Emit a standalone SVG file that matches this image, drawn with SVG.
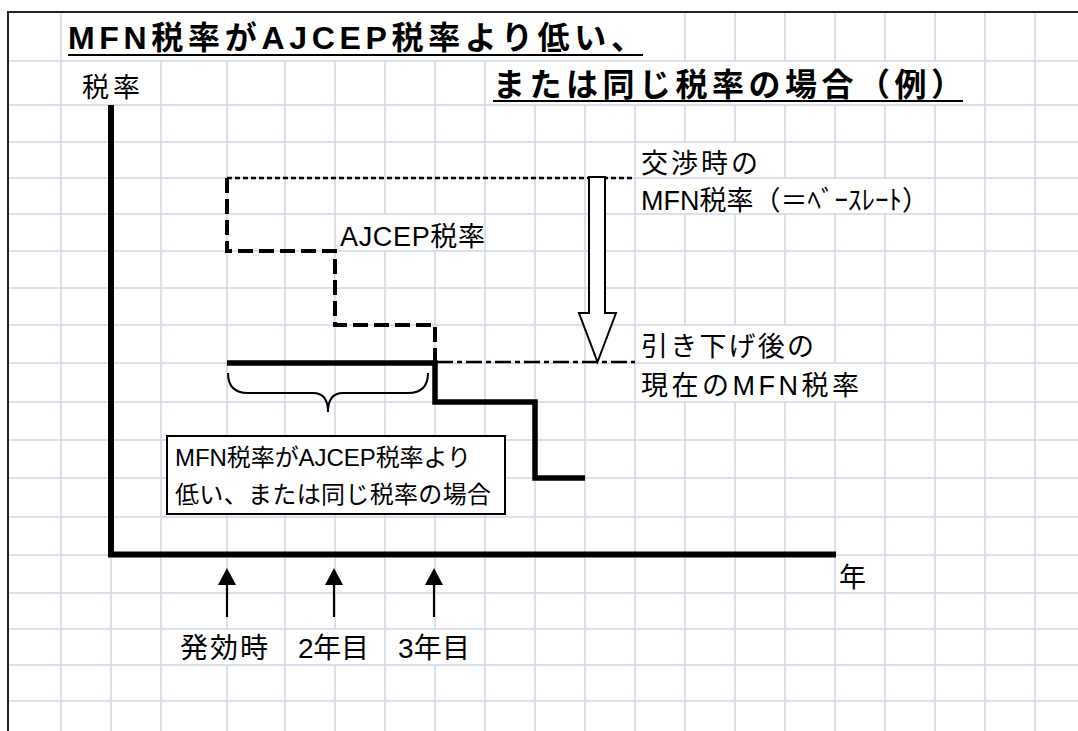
<svg xmlns="http://www.w3.org/2000/svg" width="1078" height="731" viewBox="0 0 1078 731">
<style>
.grid{stroke:#d0d7e5;stroke-width:1.5;fill:none}
.border{stroke:#222;stroke-width:2;fill:none}
.t{font-family:"Liberation Sans","Noto Sans CJK JP",sans-serif;fill:#000}
.title{font-size:32px;font-weight:bold}
.lbl{font-size:27px}
.box{font-size:24px}
.bot{font-size:28px}
.ul{stroke:#000;stroke-width:2}
</style>
<defs>
<marker id="ah" markerUnits="userSpaceOnUse" markerWidth="17" markerHeight="18" viewBox="0 0 17 18" refX="0" refY="9" orient="auto">
<path d="M0,0 L17,9 L0,18 z" fill="#000"/>
</marker>
</defs>
<rect width="1078" height="731" fill="#fff"/>
<g id="grid">
<path class="grid" d="M8,61H1078M8,105H1078M8,142H1078M8,178H1078M8,214H1078M8,251H1078M8,288H1078M8,325H1078M8,363H1078M8,402H1078M8,440H1078M8,478H1078M8,517H1078M8,555H1078M8,593H1078M8,629H1078M8,665H1078M8,701H1078"/>
<path class="grid" d="M61,12V731M111,105V731M161,61V731M227,61V629M227,665V731M285,61V731M335,61V629M335,665V731M385,61V214M385,251V731M435,61V214M435,251V629M435,665V731M485,61V731M535,105V731M585,105V731M635,105V731M685,12V61M685,105V142M685,214V325M685,402V731M735,12V61M735,105V142M735,214V325M735,402V731M785,12V61M785,105V178M785,214V325M785,402V731M835,12V61M835,105V178M835,214V363M835,402V731M885,12V61M885,105V178M885,214V731M935,12V61M935,105V731M985,12V731M1035,12V731"/>
<path class="border" d="M8,731V12H1078"/>
</g>
<g id="title">
<text class="t title" x="68" y="49" textLength="575" lengthAdjust="spacing">MFN税率がAJCEP税率より低い、</text>
<line class="ul" x1="68" y1="55" x2="643" y2="55"/>
<text class="t title" x="493" y="96" textLength="470" lengthAdjust="spacing">または同じ税率の場合（例）</text>
<line class="ul" x1="493" y1="101" x2="963" y2="101"/>
</g>
<g id="axes">
<path d="M111,105V554.5H836" fill="none" stroke="#000" stroke-width="6"/>
<text class="t lbl" x="82" y="97" font-size="26" textLength="58" lengthAdjust="spacing">税率</text>
<text class="t lbl" x="839" y="587">年</text>
</g>
<g id="base-rate">
<line x1="227" y1="178" x2="635" y2="178" stroke="#000" stroke-width="2.3" stroke-dasharray="5 3"/>
<text class="t lbl" x="641" y="173" textLength="117" lengthAdjust="spacing">交渉時の</text>
<text class="t lbl" x="641" y="210" textLength="288" lengthAdjust="spacing">MFN税率（＝ﾍﾞｰｽﾚｰﾄ）</text>
</g>
<g id="ajcep-rate">
<path d="M227,178V251H335V325H435V362" fill="none" stroke="#000" stroke-width="4" stroke-dasharray="15 6"/>
<text class="t lbl" x="340" y="246" textLength="145" lengthAdjust="spacing">AJCEP税率</text>
</g>
<g id="reduction-arrow">
<path d="M589,177H605V313H616L597.5,362L579,313H589Z" fill="#fff" stroke="#000" stroke-width="2" stroke-linejoin="miter"/>
</g>
<g id="current-mfn">
<line x1="437" y1="362" x2="635" y2="362" stroke="#000" stroke-width="2.5" stroke-dasharray="16 4 5 4"/>
<path d="M227,363H435V402H535V478H585" fill="none" stroke="#000" stroke-width="5.5"/>
<text class="t lbl" x="641" y="356" textLength="173" lengthAdjust="spacing">引き下げ後の</text>
<text class="t lbl" x="641" y="395" textLength="218" lengthAdjust="spacing">現在のMFN税率</text>
</g>
<g id="brace">
<path d="M228,373Q228,393 248,393H313Q328,393 328,412Q328,393 343,393H408Q428,393 428,373" fill="none" stroke="#000" stroke-width="2"/>
</g>
<g id="note-box">
<rect x="167" y="436" width="338" height="78" fill="#fff" stroke="#000" stroke-width="2"/>
<text class="t box" x="175" y="466" textLength="296" lengthAdjust="spacing">MFN税率がAJCEP税率より</text>
<text class="t box" x="175" y="503" textLength="316" lengthAdjust="spacing">低い、または同じ税率の場合</text>
</g>
<g id="connectors">
<line x1="227" y1="617" x2="227" y2="585" stroke="#000" stroke-width="2.2" marker-end="url(#ah)"/>
<line x1="334" y1="617" x2="334" y2="585" stroke="#000" stroke-width="2.2" marker-end="url(#ah)"/>
<line x1="434" y1="617" x2="434" y2="585" stroke="#000" stroke-width="2.2" marker-end="url(#ah)"/>
</g>
<g id="year-labels">
<text class="t bot" x="180" y="658" textLength="88" lengthAdjust="spacing">発効時</text>
<text class="t bot" x="298" y="658" textLength="71" lengthAdjust="spacing">2年目</text>
<text class="t bot" x="398" y="658" textLength="72" lengthAdjust="spacing">3年目</text>
</g>
</svg>
